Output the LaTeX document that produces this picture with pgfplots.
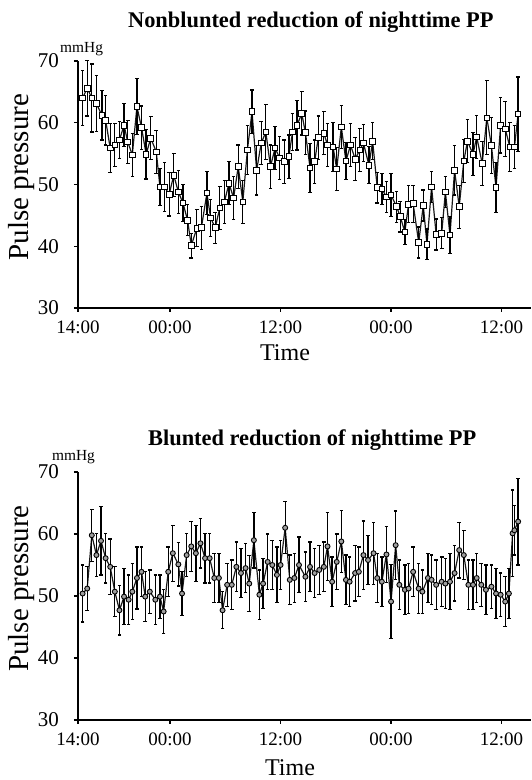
\documentclass[border=0pt]{standalone}
\usepackage{fontspec}
\setmainfont{Liberation Serif}
\usepackage{pgfplots}
\pgfplotsset{compat=1.18}
\usepackage{pgfplotstable}

% hours after 14:00, mean PP, SD
\pgfplotstableread{
x y e
0.5 64.0 4.5
1.0 65.6 4.5
1.5 64.0 5.5
2.0 63.1 4.5
2.6 61.2 4.0
3.0 60.4 4.0
3.5 55.9 4.0
4.0 56.4 3.5
4.5 57.2 3.0
5.0 59.6 3.5
5.4 56.9 3.5
5.9 54.8 3.5
6.4 62.6 4.5
6.9 59.2 3.5
7.4 54.9 4.0
7.9 57.5 3.5
8.5 55.3 3.5
8.9 49.6 3.0
9.4 49.6 4.0
9.9 48.4 3.5
10.4 51.5 3.5
10.9 48.8 3.5
11.4 47.0 3.0
11.9 44.2 2.5
12.3 40.1 2.0
12.9 42.9 3.0
13.4 43.0 3.5
14.0 48.6 3.5
14.4 44.6 3.0
14.9 43.0 2.5
15.4 46.2 3.5
15.9 47.2 3.5
16.4 50.2 3.5
16.9 47.8 3.5
17.4 52.9 3.5
17.9 47.2 3.5
18.4 55.6 4.0
18.9 61.8 3.5
19.4 52.3 4.0
19.9 56.7 3.5
20.4 58.5 4.5
20.9 52.9 3.5
21.4 55.9 3.5
21.9 54.3 3.5
22.4 53.7 3.5
22.9 54.5 3.5
23.3 58.5 3.0
23.8 59.6 4.0
24.3 61.5 3.5
24.7 58.4 3.5
25.2 52.7 4.0
25.7 53.7 3.5
26.1 57.6 3.5
26.7 58.3 3.5
27.1 56.4 3.5
27.7 56.1 4.0
28.1 52.5 3.5
28.6 59.3 3.5
29.1 53.8 3.0
29.6 56.4 3.5
30.1 54.1 3.5
30.6 55.6 3.5
31.0 56.7 3.0
31.6 53.1 3.0
32.0 57.0 3.0
32.5 49.5 2.5
33.0 49.3 2.5
33.5 48.0 2.5
34.0 48.3 3.5
34.6 46.4 2.5
35.0 44.8 2.5
35.5 42.3 2.0
35.9 46.8 3.0
36.4 46.9 3.0
37.0 40.6 2.5
37.5 46.6 2.5
37.9 40.3 2.5
38.4 49.6 2.5
38.9 41.9 2.5
39.5 42.1 2.5
39.9 48.8 2.5
40.4 41.8 3.0
40.9 52.3 4.0
41.4 46.4 3.5
41.9 53.8 3.5
42.3 57.0 3.5
42.9 54.9 3.5
43.3 57.7 3.5
43.9 53.4 3.5
44.4 60.8 6.0
44.9 56.3 4.5
45.4 49.5 4.0
45.9 59.6 4.5
46.4 59.0 4.5
46.9 56.1 4.0
47.4 56.1 3.5
47.8 61.4 6.0
}\nonblunted

\pgfplotstableread{
x y e
0.5 50.4 4.6
1.0 51.2 3.5
1.5 59.8 4.2
2.0 56.6 3.5
2.5 58.9 5.5
3.0 56.1 4.0
3.5 54.7 4.5
4.0 50.7 4.0
4.5 47.7 4.0
5.0 49.9 4.5
5.5 49.4 4.0
5.9 50.7 4.5
6.4 52.9 5.0
6.9 53.9 4.0
7.3 49.9 4.0
7.8 50.7 3.5
8.4 49.4 4.0
8.9 49.9 3.5
9.3 47.5 3.5
9.8 53.9 4.0
10.3 56.9 4.5
10.9 55.1 3.5
11.3 50.4 3.5
11.8 56.6 3.5
12.3 58.0 4.0
12.8 56.9 4.5
13.3 58.5 4.0
13.8 56.1 4.0
14.3 56.1 4.0
14.8 52.9 4.0
15.3 52.9 4.0
15.7 47.7 3.0
16.2 51.8 3.5
16.7 51.8 4.0
17.2 54.7 4.0
17.7 53.7 4.0
18.2 54.5 4.0
18.6 52.0 4.5
19.1 59.0 4.5
19.7 50.2 4.0
20.1 52.0 4.0
20.6 55.5 4.5
21.1 55.0 4.0
21.6 53.4 4.5
22.0 55.0 4.0
22.5 61.0 4.2
23.0 52.6 4.0
23.5 52.9 4.0
24.0 55.0 4.5
24.7 53.1 4.0
25.2 54.7 4.0
25.7 53.7 4.0
26.2 54.2 4.0
26.7 54.7 4.0
27.1 58.0 5.5
27.6 52.3 4.0
28.1 55.5 4.5
28.6 58.8 5.0
29.1 52.6 4.0
29.5 52.3 4.0
30.1 53.7 4.5
30.5 53.9 4.0
31.0 56.6 5.5
31.5 55.8 4.0
32.1 56.9 5.0
32.5 52.9 4.0
33.0 52.3 4.0
33.5 56.7 4.5
34.0 49.1 6.0
34.5 58.2 5.5
34.9 51.8 4.0
35.5 51.0 4.0
35.9 51.2 4.0
36.4 53.9 4.0
37.0 51.2 4.0
37.4 50.7 3.5
38.0 52.9 4.0
38.4 52.6 4.0
38.9 51.8 4.0
39.5 52.3 4.0
39.9 52.0 4.0
40.4 52.3 4.5
40.9 53.7 4.5
41.4 57.4 4.5
41.9 56.6 4.0
42.4 51.8 4.0
42.9 51.8 4.0
43.3 52.9 4.0
43.8 51.8 3.5
44.3 51.0 4.0
44.9 51.5 3.5
45.4 50.4 4.0
45.9 50.2 3.5
46.4 49.1 4.0
46.8 50.4 4.0
47.2 60.1 7.0
47.4 60.6 4.0
47.8 62.0 7.0
}\blunted

\pgfplotsset{
  ppaxis/.style={
    scale only axis,
    width=226.5pt,
    xmin=0, xmax=49.2, ymin=30, ymax=70,
    axis x line*=bottom, axis y line*=left,
    axis line style={line width=1pt, black},
    xtick={0,10,22,34,46},
    xticklabels={14:00,00:00,12:00,00:00,12:00},
    ytick={30,40,50,60,70},
    tick align=outside, major tick length=2pt,
    tick style={black, line width=0.6pt},
    /pgf/number format/assume math mode=true,
    xticklabel style={font=\fontsize{9.5}{10}\selectfont, yshift=-1pt},
    yticklabel style={font=\fontsize{10.5}{11}\selectfont, xshift=-4pt},
    xlabel={Time}, ylabel={Pulse pressure},
    every axis y label/.style={at={(axis description cs:-0.125,0.53)}, rotate=90, anchor=center, font=\fontsize{14.5}{15}\selectfont},
    clip=false,
  },
  ppbars/.style={
    error bars/.cd, y dir=both, y explicit,
    error bar style={line width=0.65pt, black},
    error mark options={rotate=90, mark size=0.9pt, line width=0.6pt, black},
  },
}

\begin{document}
\begin{tikzpicture}
\path[use as bounding box] (0,0) rectangle (265.5pt,390pt);

\begin{axis}[ppaxis,
  at={(39pt,236pt)}, anchor=south west, height=123.5pt,
  every axis x label/.style={at={(axis description cs:0.457,0)}, anchor=center, yshift=-22.5pt, font=\fontsize{12}{13}\selectfont},
  title={Nonblunted reduction of nighttime PP},
  title style={at={(axis description cs:0.514,1)}, anchor=center, yshift=13.5pt, font=\bfseries\fontsize{11.2}{12}\selectfont},
]
\addplot[black!90, line width=0.6pt, mark=square*, mark size=1.4pt,
  mark options={fill=white, draw=black, line width=0.45pt, solid},
  ppbars] table[x=x, y=y, y error=e] {\nonblunted};
\node[font=\fontsize{7.7}{8}\selectfont] at (rel axis cs:0.008,1) [yshift=6pt] {mmHg};
\end{axis}

\begin{axis}[ppaxis,
  at={(39pt,30pt)}, anchor=south west, height=124pt,
  every axis x label/.style={at={(axis description cs:0.468,0)}, anchor=center, yshift=-24pt, font=\fontsize{12}{13}\selectfont},
  title={Blunted reduction of nighttime PP},
  title style={at={(axis description cs:0.517,1)}, anchor=center, yshift=10pt, font=\bfseries\fontsize{11.2}{12}\selectfont},
]
\addplot[black!90, line width=0.6pt, mark=*, mark size=1.25pt,
  mark options={fill=gray!75, draw=black, line width=0.45pt, solid},
  ppbars] table[x=x, y=y, y error=e] {\blunted};
\node[font=\fontsize{7.7}{8}\selectfont] at (rel axis cs:-0.01,1) [yshift=7.5pt] {mmHg};
\end{axis}
\end{tikzpicture}
\end{document}
